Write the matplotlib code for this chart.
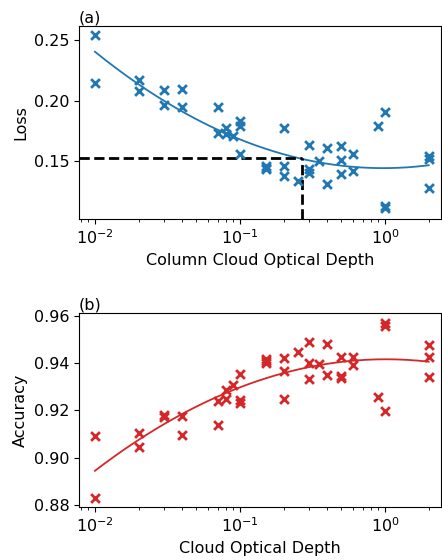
import numpy as np
import matplotlib
matplotlib.use("Agg")
import matplotlib.pyplot as plt

# ---- data (a) ----
depth_a = [0.01, 0.01, 0.02, 0.02, 0.03, 0.03, 0.04, 0.04, 0.07, 0.07,
           0.08, 0.08, 0.09, 0.1, 0.1, 0.1, 0.15, 0.15, 0.15, 0.2, 0.2, 0.2,
           0.25, 0.3, 0.3, 0.3, 0.35, 0.4, 0.4, 0.5, 0.5, 0.5, 0.6, 0.6,
           0.9, 1.0, 1.0, 1.0, 2.0, 2.0, 2.0]
loss = [0.2545, 0.2146, 0.2168, 0.2077, 0.2083, 0.1961, 0.2097, 0.1945, 0.1945, 0.1733,
        0.1774, 0.1719, 0.1705, 0.1829, 0.1788, 0.1554, 0.1457, 0.1443, 0.1430, 0.1774, 0.1457, 0.1374,
        0.1333, 0.1636, 0.1430, 0.1403, 0.1498, 0.1609, 0.1312, 0.1622, 0.1512, 0.1394, 0.1554, 0.1421,
        0.1793, 0.1903, 0.1126, 0.1110, 0.1540, 0.1518, 0.1273]

# ---- data (b) ----
depth_b = [0.01, 0.01, 0.02, 0.02, 0.03, 0.03, 0.04, 0.04, 0.07, 0.07,
           0.08, 0.08, 0.09, 0.1, 0.1, 0.1, 0.15, 0.15, 0.15, 0.2, 0.2, 0.2,
           0.25, 0.3, 0.3, 0.3, 0.35, 0.4, 0.4, 0.5, 0.5, 0.5, 0.6, 0.6,
           0.9, 1.0, 1.0, 1.0, 2.0, 2.0, 2.0]
accuracy = [0.9092, 0.8828, 0.9103, 0.9044, 0.9180, 0.9170, 0.9176, 0.9096, 0.9241, 0.9138,
            0.9286, 0.9247, 0.9307, 0.9352, 0.9244, 0.9230, 0.9415, 0.9408, 0.9399, 0.9420, 0.9366, 0.9247,
            0.9448, 0.9490, 0.9399, 0.9331, 0.9395, 0.9479, 0.9350, 0.9427, 0.9345, 0.9335, 0.9427, 0.9392,
            0.9258, 0.9570, 0.9556, 0.9197, 0.9476, 0.9427, 0.9342]

threshold_depth = 0.267
threshold_loss = 0.1525

blue = "#1f77b4"
red = "#d62728"
FS = 11.5

fig = plt.figure(figsize=(4.42, 5.60), dpi=100)
ax1 = fig.add_axes([0.1787, 0.6089, 0.819, 0.3446])
ax2 = fig.add_axes([0.1787, 0.0946, 0.819, 0.3464])

xlim = (10 ** -2.11, 10 ** 0.386)


def fit_curve(x, y):
    lx = np.log10(np.asarray(x))
    coef = np.polyfit(lx, np.asarray(y), 2)
    xs = np.logspace(lx.min(), lx.max(), 200)
    return xs, np.polyval(coef, np.log10(xs))


# panel (a)
ax1.scatter(depth_a, loss, marker="x", s=40, color=blue, linewidths=2, zorder=3)
xs, ys = fit_curve(depth_a, loss)
ax1.plot(xs, ys, color=blue, lw=1.3)
ax1.set_xscale("log")
ax1.set_xlim(*xlim)
ax1.set_ylim(0.102, 0.2616)
ax1.plot([xlim[0], threshold_depth], [threshold_loss, threshold_loss], "k--", lw=2)
ax1.plot([threshold_depth, threshold_depth], [0.102, threshold_loss], "k--", lw=2)
ax1.set_yticks([0.15, 0.20, 0.25])
ax1.set_ylabel("Loss", fontsize=FS)
ax1.set_xlabel("Column Cloud Optical Depth", fontsize=FS)
ax1.text(0.0, 1.005, "(a)", transform=ax1.transAxes, fontsize=FS, va="bottom", ha="left")

# panel (b)
ax2.scatter(depth_b, accuracy, marker="x", s=40, color=red, linewidths=2, zorder=3)
xs, ys = fit_curve(depth_b, accuracy)
ax2.plot(xs, ys, color=red, lw=1.3)
ax2.set_xscale("log")
ax2.set_xlim(*xlim)
ax2.set_ylim(0.8792, 0.9611)
ax2.set_yticks([0.88, 0.90, 0.92, 0.94, 0.96])
ax2.set_ylabel("Accuracy", fontsize=FS)
ax2.set_xlabel("Cloud Optical Depth", fontsize=FS)
ax2.text(0.0, 1.005, "(b)", transform=ax2.transAxes, fontsize=FS, va="bottom", ha="left")

for ax in (ax1, ax2):
    ax.tick_params(labelsize=FS)

fig.savefig("out.png", dpi=100)
